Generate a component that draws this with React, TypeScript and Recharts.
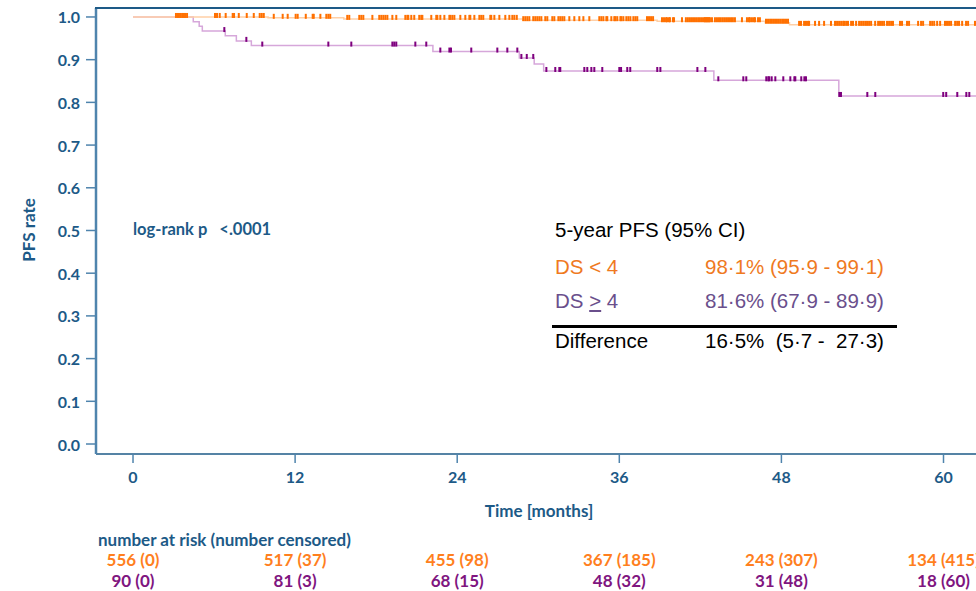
import React from 'react';
import { ComposedChart, Line, Scatter, XAxis, YAxis } from 'recharts';

// tick positions (months) and the number-at-risk table
const months = [0, 12, 24, 36, 48, 60];
const riskLow = ['556 (0)', '517 (37)', '455 (98)', '367 (185)', '243 (307)', '134 (415)'];
const riskHigh = ['90 (0)', '81 (3)', '68 (15)', '48 (32)', '31 (48)', '18 (60)'];
const rateTicks = [0, 0.1, 0.2, 0.3, 0.4, 0.5, 0.6, 0.7, 0.8, 0.9, 1.0];

// Kaplan-Meier steps: [month, PFS]
const lowSteps = [
  [0, 1], [10.0, 0.998], [15.6, 0.9955], [28.85, 0.9925], [38.8, 0.99],
  [46.8, 0.9865], [48.6, 0.9815], [62.85, 0.9815],
];
const highSteps = [
  [0, 1], [4.46, 0.989], [4.9, 0.978], [5.13, 0.967], [6.83, 0.956], [7.65, 0.944],
  [8.76, 0.933], [22.2, 0.919], [28.6, 0.904], [29.7, 0.89], [30.4, 0.8735],
  [43.0, 0.8517], [52.25, 0.815], [62.85, 0.815],
];

// censoring times (months)
const lowCensored = [
  3.18, 3.33, 3.48, 3.63, 3.74, 3.85, 4.0, 6.07, 6.22, 6.42, 6.86, 7.38, 7.48, 7.83, 8.42,
  8.94, 9.38, 9.53, 9.68, 10.42, 11.08, 11.45, 12.04, 12.19, 12.79, 13.3, 13.38, 13.87,
  14.31, 14.46, 14.6, 15.86, 16.01, 16.75, 16.9, 17.05, 17.72, 18.23, 18.38, 18.53, 18.68,
  18.83, 19.2, 19.49, 20.16, 20.31, 20.38, 20.6, 20.82, 21.19, 21.34, 21.42, 22.08, 22.45,
  22.53, 22.75, 23.05, 23.42, 23.49, 23.64, 23.79, 24.23, 24.6, 24.9, 24.97, 25.27, 25.64,
  25.78, 25.93, 26.45, 26.52, 26.75, 27.12, 27.56, 27.86, 28.08, 28.23, 28.41, 28.89, 29.04,
  29.19, 29.34, 29.63, 29.78, 29.93, 30.08, 30.23, 30.52, 30.67, 31.04, 31.19, 31.49, 31.63,
  31.78, 31.93, 32.3, 32.67, 33.04, 33.34, 33.78, 34.52, 34.67, 34.82, 35.04, 35.11, 35.41,
  35.63, 35.71, 35.85, 36.08, 36.15, 36.3, 36.52, 36.67, 36.82, 37.04, 37.19, 37.33, 38.05,
  38.2, 38.35, 38.5, 39.16, 39.31, 39.46, 39.53, 39.68, 39.75, 39.97, 40.05, 40.64, 40.93,
  41.08, 41.23, 41.38, 41.53, 41.68, 41.83, 41.97, 42.12, 42.27, 42.34, 42.42, 42.49, 42.56,
  42.64, 42.71, 42.86, 43.08, 43.23, 43.38, 43.52, 43.67, 43.82, 43.97, 44.12, 44.27, 44.41,
  44.56, 45.08, 45.45, 45.6, 45.67, 45.82, 45.97, 46.05, 46.27, 46.41, 46.86, 47.01, 47.16,
  47.3, 47.45, 47.6, 47.75, 47.9, 48.05, 48.19, 48.34, 48.49, 49.31, 49.45, 49.68, 49.82,
  49.97, 50.05, 50.49, 50.79, 51.16, 51.67, 51.97, 52.12, 52.27, 52.42, 52.57, 52.64, 52.79,
  52.93, 53.16, 53.3, 53.53, 53.75, 53.9, 54.05, 54.2, 54.34, 54.49, 54.64, 54.94, 55.16,
  55.3, 55.45, 55.6, 55.82, 55.97, 56.12, 56.26, 56.78, 56.93, 57.3, 57.45, 58.12, 58.34,
  58.49, 59.01, 59.16, 59.31, 59.53, 59.75, 60.11, 60.26, 60.41, 60.56, 60.86, 61.01, 61.15,
  61.38, 61.67, 61.82, 62.33,
];
const highCensored = [
  6.76, 8.39, 9.57, 14.46, 16.16, 19.2, 19.34, 19.49, 20.9, 21.71, 22.75, 23.42, 23.54,
  25.04, 26.97, 27.71, 28.45, 28.75, 29.15, 29.63, 30.6, 31.26, 31.56, 31.63, 33.41, 33.63,
  33.93, 34.15, 34.74, 36.0, 36.13, 36.59, 36.81, 38.81, 39.04, 41.78, 42.37, 43.33, 45.18,
  45.4, 46.88, 47.03, 47.1, 47.28, 47.55, 48.14, 48.66, 48.96, 49.03, 49.47, 49.7, 49.82,
  52.29, 52.41, 54.36, 54.95, 59.98, 60.2, 61.02, 61.69, 61.91,
];

const BLUE = '#1d5a87';
const FONT = 'Lato, "Open Sans", sans-serif';
const X_DOMAIN = [-2.74, 62.85];
const Y_DOMAIN = [-0.0234, 1.021];

const survAt = (steps: number[][], t: number) => {
  let s = steps[0][1];
  for (const [m, v] of steps) if (m <= t) s = v;
  return s;
};

const lowLine = lowSteps.map(([month, s]) => ({ month, s }));
const highLine = highSteps.map(([month, s]) => ({ month, s }));
const lowMarks = lowCensored.map((month) => ({ month, s: survAt(lowSteps, month) }));
const highMarks = highCensored.map((month) => ({ month, s: survAt(highSteps, month) }));

const censorMark = (color: string) => (p: any) => (
  <rect x={p.cx - 1} y={p.cy - 4} width={2} height={5} fill={color} />
);

const MonthTick = (p: any) => (
  <text x={p.x} y={p.y} textAnchor="middle" dominantBaseline="central"
    fill={BLUE} fontSize={16} fontWeight={700} fontFamily={FONT}>
    {p.payload.value}
  </text>
);

const riskTick = (rows: string[], color: string) => (p: any) => (
  <text x={p.x} y={p.y} textAnchor="middle" dominantBaseline="central"
    fill={color} fontSize={17} fontWeight={700} fontFamily={FONT}>
    {rows[months.indexOf(p.payload.value)]}
  </text>
);

const RateTick = (p: any) => (
  <text x={p.x} y={p.y} textAnchor="end" dominantBaseline="central"
    fill={BLUE} fontSize={16} fontWeight={700} fontFamily={FONT}>
    {p.payload.value.toFixed(1)}
  </text>
);

// invisible series so the extra axes get drawn
const hidden = (id: string) => (
  <Line xAxisId={id} data={lowLine} dataKey="s" stroke="none" dot={false} activeDot={false}
    legendType="none" isAnimationActive={false} />
);

const boxText: React.CSSProperties = {
  position: 'absolute', fontFamily: '"Liberation Sans", Arial, sans-serif', fontSize: 20.5,
  lineHeight: '24px', whiteSpace: 'pre',
};

export default function App() {
  return (
    <div style={{ position: 'fixed', left: 0, top: 0, width: 976, height: 591, overflow: 'hidden', background: '#fff' }}>
      <ComposedChart width={990} height={591} margin={{ top: 8, right: 8, bottom: 0, left: 0 }}>
        <XAxis xAxisId="main" type="number" dataKey="month" domain={X_DOMAIN} ticks={months}
          height={80} tickSize={9} tickMargin={13} tick={MonthTick}
          axisLine={{ stroke: BLUE, strokeWidth: 1.5 }} tickLine={{ stroke: '#4f84ad', strokeWidth: 1.5 }} />
        <XAxis xAxisId="r1" type="number" dataKey="month" domain={X_DOMAIN} ticks={months}
          height={21} tickSize={0} tickMargin={25} axisLine={false} tickLine={false}
          tick={riskTick(riskLow, '#ff7f1e')} />
        <XAxis xAxisId="r2" type="number" dataKey="month" domain={X_DOMAIN} ticks={months}
          height={36} tickSize={0} tickMargin={25} axisLine={false} tickLine={false}
          tick={riskTick(riskHigh, '#80157f')} />
        <YAxis type="number" domain={Y_DOMAIN} ticks={rateTicks} width={96}
          tickSize={10} tickMargin={6} tick={RateTick} allowDataOverflow
          axisLine={{ stroke: '#4f84ad', strokeWidth: 2.5 }} tickLine={{ stroke: '#4f84ad', strokeWidth: 1.5 }} />
        {hidden('r1')}
        {hidden('r2')}
        <Line xAxisId="main" data={highLine} dataKey="s" type="stepAfter" stroke="#d6a7da"
          strokeWidth={1.5} dot={false} isAnimationActive={false} />
        <Line xAxisId="main" data={lowLine} dataKey="s" type="stepAfter" stroke="#ffcfa6"
          strokeWidth={1.5} dot={false} isAnimationActive={false} />
        <Scatter xAxisId="main" data={highMarks} dataKey="s" shape={censorMark('#7e007e')} isAnimationActive={false} />
        <Scatter xAxisId="main" data={lowMarks} dataKey="s" shape={censorMark('#ff7000')} isAnimationActive={false} />
      </ComposedChart>

      {/* top edge of the plot frame */}
      <div style={{ position: 'absolute', left: 95, top: 7, width: 900, height: 2, background: BLUE }} />

      <div style={{ position: 'absolute', left: 28, top: 230, transform: 'translate(-50%, -50%) rotate(-90deg)',
        color: BLUE, fontFamily: FONT, fontWeight: 700, fontSize: 17, whiteSpace: 'nowrap' }}>PFS rate</div>
      <div style={{ position: 'absolute', left: 133, top: 219, color: BLUE, fontFamily: FONT, fontWeight: 700,
        fontSize: 16.5, whiteSpace: 'pre' }}>log-rank p   {'<'}.0001</div>
      <div style={{ position: 'absolute', left: 539, top: 500, transform: 'translateX(-50%)', color: BLUE,
        fontFamily: FONT, fontWeight: 700, fontSize: 17, whiteSpace: 'nowrap' }}>Time [months]</div>
      <div style={{ position: 'absolute', left: 98, top: 529, color: BLUE, fontFamily: FONT, fontWeight: 700,
        fontSize: 17, whiteSpace: 'nowrap' }}>number at risk (number censored)</div>

      <div style={{ ...boxText, left: 555, top: 218, color: '#000' }}>5-year PFS (95% CI)</div>
      <div style={{ ...boxText, left: 555, top: 255, color: '#ef7a1f' }}>DS {'<'} 4</div>
      <div style={{ ...boxText, left: 705, top: 255, color: '#ef7a1f' }}>98·1% (95·9 - 99·1)</div>
      <div style={{ ...boxText, left: 555, top: 289, color: '#6a4f8c' }}>DS <u>{'>'}</u> 4</div>
      <div style={{ ...boxText, left: 705, top: 289, color: '#6a4f8c' }}>81·6% (67·9 - 89·9)</div>
      <div style={{ position: 'absolute', left: 552, top: 325, width: 345, height: 3, background: '#000' }} />
      <div style={{ ...boxText, left: 555, top: 329, color: '#000' }}>Difference</div>
      <div style={{ ...boxText, left: 705, top: 329, color: '#000' }}>16·5%  (5·7 -  27·3)</div>
    </div>
  );
}
